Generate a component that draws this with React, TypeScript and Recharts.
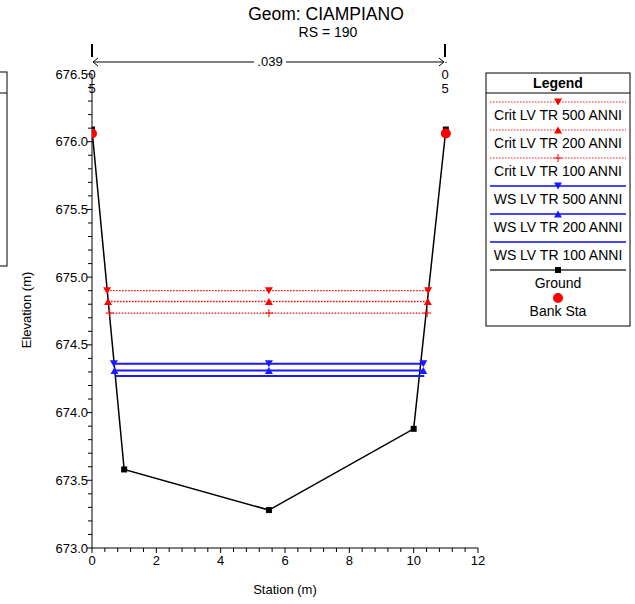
import { LineChart, Line, XAxis, YAxis } from 'recharts';

const FONT = '"Liberation Sans", Arial, sans-serif';

// ground profile
const groundStation = [0, 1.0, 5.5, 10.0, 11.0];
const groundElev = [676.09, 673.58, 673.28, 673.88, 676.09];

// bank stations
const bankStation = [0, 11];
const bankElev = [676.06, 676.06];

// water levels (left edge, centre, right edge)
const levelNames = [
  'Crit LV TR 500 ANNI',
  'Crit LV TR 200 ANNI',
  'Crit LV TR 100 ANNI',
  'WS LV TR 500 ANNI',
  'WS LV TR 200 ANNI',
  'WS LV TR 100 ANNI',
];
const levelElev = [674.9, 674.82, 674.735, 674.36, 674.31, 674.27];
const levelLeft = [0.47, 0.5, 0.55, 0.68, 0.7, 0.73];
const levelMid = [5.5, 5.5, 5.5, 5.5, 5.5, 5.5];
const levelRight = [10.45, 10.44, 10.42, 10.3, 10.3, 10.33];
const levelMarker = ['down', 'up', 'plus', 'down', 'up', 'none'];
const levelColor = ['#ff0000', '#ff0000', '#ff0000', '#1a1aff', '#1a1aff', '#1a1aff'];
const levelDash = ['1.5 1.5', '1.5 1.5', '1.5 1.5', undefined, undefined, undefined];

const xMajor = [0, 2, 4, 6, 8, 10, 12];
const yMajor = [673.0, 673.5, 674.0, 674.5, 675.0, 675.5, 676.0, 676.5];

const xTicks: number[] = [];
for (let i = 0; i <= 30; i++) xTicks.push(+(i * 0.4).toFixed(1));
const yTicks: number[] = [];
for (let i = 0; i <= 35; i++) yTicks.push(+(673 + i * 0.1).toFixed(1));

const groundData = groundStation.map((x, i) => ({ x, ground: groundElev[i] }));
const bankData = bankStation.map((x, i) => ({ x, bank: bankElev[i] }));
const levelData = levelElev.map((y, i) => [
  { x: levelLeft[i], [`lv${i}`]: y },
  { x: levelMid[i], [`lv${i}`]: y },
  { x: levelRight[i], [`lv${i}`]: y },
]);

function Marker({ cx, cy, shape, color }: any) {
  if (shape === 'down')
    return <polygon points={`${cx - 4},${cy - 3.5} ${cx + 4},${cy - 3.5} ${cx},${cy + 3.5}`} fill={color} />;
  if (shape === 'up')
    return <polygon points={`${cx - 4},${cy + 3.5} ${cx + 4},${cy + 3.5} ${cx},${cy - 3.5}`} fill={color} />;
  if (shape === 'plus')
    return (
      <g stroke={color} strokeWidth={1}>
        <line x1={cx - 4} x2={cx + 4} y1={cy} y2={cy} />
        <line x1={cx} x2={cx} y1={cy - 4} y2={cy + 4} />
      </g>
    );
  if (shape === 'square') return <rect x={cx - 3} y={cy - 3} width={6} height={6} fill={color} />;
  if (shape === 'circle') return <circle cx={cx} cy={cy} r={5} fill={color} />;
  return <g />;
}

const isMajor = (v: number, step: number) => Math.abs(v / step - Math.round(v / step)) < 1e-6;

function YTick({ x, y, payload }: any) {
  const major = isMajor(payload.value, 0.5);
  return (
    <g>
      <line x1={x - (major ? 5 : 4)} x2={x} y1={y} y2={y} stroke="#000" />
      {major && yMajor.some((m) => Math.abs(m - payload.value) < 1e-6) && (
        <text x={x - 4} y={y + 4.5} textAnchor="end" fontSize={13} fontFamily={FONT} fill="#000">
          {payload.value.toFixed(1)}
        </text>
      )}
    </g>
  );
}

function XTick({ x, y, payload }: any) {
  const major = isMajor(payload.value, 2);
  return (
    <g>
      <line x1={x} x2={x} y1={y} y2={y + (major ? 5 : 4)} stroke="#000" />
      {major && xMajor.includes(Math.round(payload.value)) && (
        <text x={x} y={y + 17} textAnchor="middle" fontSize={13} fontFamily={FONT} fill="#000">
          {Math.round(payload.value)}
        </text>
      )}
    </g>
  );
}

function LegendBox() {
  const x0 = 486;
  const rows = levelNames.map((name, i) => ({ name, i }));
  return (
    <g fontFamily={FONT} fontSize={14}>
      <rect x={x0} y={73} width={144} height={253} fill="#fff" stroke="#000" />
      <text x={558} y={88} textAnchor="middle" fontWeight="bold">Legend</text>
      <line x1={x0} x2={x0 + 144} y1={93} y2={93} stroke="#000" />
      {rows.map(({ name, i }) => {
        const ly = 102 + i * 28;
        return (
          <g key={name}>
            <line x1={490} x2={626} y1={ly} y2={ly} stroke={levelColor[i]} strokeWidth={levelDash[i] ? 1.3 : 2} strokeDasharray={levelDash[i]} opacity={levelDash[i] ? 0.6 : 0.8} />
            <Marker cx={558} cy={ly} shape={levelMarker[i]} color={levelColor[i]} />
            <text x={558} y={ly + 18} textAnchor="middle">{name}</text>
          </g>
        );
      })}
      <line x1={490} x2={626} y1={270} y2={270} stroke="#333" strokeWidth={1.5} />
      <Marker cx={558} cy={270} shape="square" color="#000" />
      <text x={558} y={288} textAnchor="middle">Ground</text>
      <Marker cx={558} cy={298} shape="circle" color="#ff0000" />
      <text x={558} y={316} textAnchor="middle">Bank Sta</text>
    </g>
  );
}

function Overlay() {
  return (
    <svg width={635} height={604} style={{ position: 'absolute', left: 0, top: 0, pointerEvents: 'none' }}>
      <g fontFamily={FONT} fill="#000">
        <text x={326} y={20} textAnchor="middle" fontSize={17.5}>Geom: CIAMPIANO</text>
        <text x={328} y={37} textAnchor="middle" fontSize={14}>RS = 190</text>
        <text x={31} y={310} textAnchor="middle" fontSize={13} transform="rotate(-90 31 310)">Elevation (m)</text>
        <text x={285} y={594} textAnchor="middle" fontSize={13}>Station (m)</text>
        {/* Manning's n marker */}
        <line x1={92} x2={92} y1={44} y2={57} stroke="#000" strokeWidth={2} />
        <line x1={445} x2={445} y1={44} y2={57} stroke="#000" strokeWidth={2} />
        <line x1={93} x2={254} y1={62} y2={62} stroke="#000" />
        <line x1={286} x2={444} y1={62} y2={62} stroke="#000" />
        <polyline points="98,58 93,62 98,66" fill="none" stroke="#000" />
        <polyline points="439,58 444,62 439,66" fill="none" stroke="#000" />
        <text x={270} y={66} textAnchor="middle" fontSize={13}>.039</text>
        <text x={446} y={63} textAnchor="middle" fontSize={11}>.</text>
        <text x={92} y={79} textAnchor="middle" fontSize={13}>0</text>
        <text x={92} y={93} textAnchor="middle" fontSize={13}>5</text>
        <text x={445} y={79} textAnchor="middle" fontSize={13}>0</text>
        <text x={445} y={93} textAnchor="middle" fontSize={13}>5</text>
        {/* clipped legend of a neighbouring plot */}
        <rect x={-10} y={72} width={17} height={194} fill="#fff" stroke="#000" />
        <line x1={0} x2={7} y1={93} y2={93} stroke="#000" />
        <LegendBox />
      </g>
    </svg>
  );
}

export default function App() {
  return (
    <div style={{ position: 'absolute', left: 0, top: 0, width: 635, height: 604, background: '#fff' }}>
      <LineChart width={635} height={604} margin={{ top: 74, right: 157, bottom: 0, left: 0 }}>
        <XAxis
          type="number"
          dataKey="x"
          domain={[0, 12]}
          ticks={xTicks}
          interval={0}
          height={56}
          tickSize={0}
          tickMargin={0}
          tickLine={false}
          tick={<XTick />}
          axisLine={{ stroke: '#000' }}
          allowDataOverflow
        />
        <YAxis
          type="number"
          domain={[673, 676.5]}
          ticks={yTicks}
          interval={0}
          width={92}
          tickSize={0}
          tickMargin={0}
          tickLine={false}
          tick={<YTick />}
          axisLine={{ stroke: '#000' }}
          allowDataOverflow
        />
        <Line
          data={groundData}
          dataKey="ground"
          type="linear"
          stroke="#000"
          strokeWidth={1.5}
          isAnimationActive={false}
          dot={(p: any) => <Marker key={`g${p.index}`} cx={p.cx} cy={p.cy} shape="square" color="#000" />}
        />
        {levelData.map((d, i) => (
          <Line
            key={levelNames[i]}
            data={d}
            dataKey={`lv${i}`}
            type="linear"
            stroke={levelColor[i]}
            strokeWidth={levelDash[i] ? 1.3 : 2}
            strokeDasharray={levelDash[i]}
            isAnimationActive={false}
            dot={(p: any) => <Marker key={`l${i}-${p.index}`} cx={p.cx} cy={p.cy} shape={levelMarker[i]} color={levelColor[i]} />}
          />
        ))}
        <Line
          data={bankData}
          dataKey="bank"
          type="linear"
          stroke="none"
          isAnimationActive={false}
          dot={(p: any) => <Marker key={`b${p.index}`} cx={p.cx} cy={p.cy} shape="circle" color="#ff0000" />}
        />
      </LineChart>
      <Overlay />
    </div>
  );
}
